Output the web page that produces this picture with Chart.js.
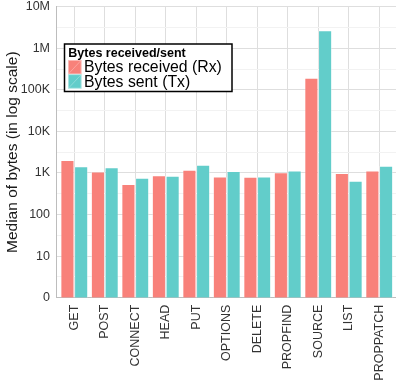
<!DOCTYPE html>
<html>
<head>
<meta charset="utf-8">
<script src="https://cdn.jsdelivr.net/npm/chart.js@4/dist/chart.umd.min.js"></script>
<style>
  html, body { margin: 0; padding: 0; background: #ffffff; overflow: hidden; }
  #wrap { width: 396px; height: 388px; }
</style>
</head>
<body>
<div id="wrap"><canvas id="chart" width="396" height="388"></canvas></div>
<script>
// HTTP methods on the x axis
const methods = ['GET', 'POST', 'CONNECT', 'HEAD', 'PUT', 'OPTIONS', 'DELETE', 'PROPFIND', 'SOURCE', 'LIST', 'PROPPATCH'];

// Median bytes per method
const bytesReceived = [2040, 1070, 540, 875, 1190, 810, 800, 1030, 194000, 995, 1130];
const bytesSent     = [1440, 1360, 755, 845, 1550, 1110, 810, 1130, 2680000, 640, 1470];

// Log-scale decade ticks and their labels
const decadeTicks  = [1, 10, 100, 1000, 10000, 100000, 1000000, 10000000];
const decadeLabels = ['0', '10', '100', '1K', '10K', '100K', '1M', '10M'];

const seriesNames = ['Bytes received (Rx)', 'Bytes sent (Tx)'];
const legendTitle = 'Bytes received/sent';
const yTitle = 'Median of bytes (in log scale)';

const rxColor = '#F8817A';
const txColor = '#62CDCA';

const toPoints = vals => vals.map((v, i) => ({ x: i + 1, y: v }));

// minor gridlines halfway between decades (in log space)
const minorTicks = decadeTicks.slice(0, -1).map(v => v * Math.sqrt(10));

const whiteBg = {
  id: 'whiteBg',
  beforeDraw(chart) {
    const c = chart.ctx;
    c.save();
    c.fillStyle = '#ffffff';
    c.fillRect(0, 0, chart.width, chart.height);
    c.restore();
  }
};

// Boxed legend inside the plotting panel
const panelLegend = {
  id: 'panelLegend',
  afterDraw(chart) {
    const c = chart.ctx;
    const area = chart.chartArea;
    const x0 = area.left + 8.5, y0 = 44;
    const w = 167.5, h = 47.5;
    c.save();
    c.fillStyle = '#ffffff';
    c.fillRect(x0, y0, w, h);
    c.strokeStyle = '#000000';
    c.lineWidth = 1.5;
    c.strokeRect(x0, y0, w, h);

    c.fillStyle = '#000000';
    c.font = 'bold 12.5px "Liberation Sans", Arial, sans-serif';
    c.textBaseline = 'alphabetic';
    c.fillText(legendTitle, x0 + 3.8, y0 + 13.3);

    const keyX = x0 + 3.5, keyW = 13.5, keyH = 14.3;
    chart.data.datasets.forEach((ds, i) => {
      const ky = y0 + 16 + i * keyH;
      c.fillStyle = ds.backgroundColor;
      c.fillRect(keyX, ky, keyW, keyH);
      c.strokeStyle = 'rgba(255,255,255,0.55)';
      c.lineWidth = 0.8;
      c.strokeRect(keyX + 0.4, ky + 0.4, keyW - 0.8, keyH - 0.8);
      c.beginPath();
      c.moveTo(keyX + 1, ky + keyH - 1);
      c.lineTo(keyX + keyW - 1, ky + 1);
      c.strokeStyle = 'rgba(255,255,255,0.35)';
      c.stroke();
      c.fillStyle = '#000000';
      c.font = '15.8px "Liberation Sans", Arial, sans-serif';
      c.fillText(ds.label, x0 + 19.5, ky + 12.3);
    });
    c.restore();
  }
};

new Chart(document.getElementById('chart'), {
  type: 'bar',
  data: {
    datasets: [
      {
        label: seriesNames[0],
        data: toPoints(bytesReceived),
        backgroundColor: rxColor,
        borderColor: 'rgba(255,255,255,0.45)',
        borderWidth: 0.8
      },
      {
        label: seriesNames[1],
        data: toPoints(bytesSent),
        backgroundColor: txColor,
        borderColor: 'rgba(255,255,255,0.45)',
        borderWidth: 0.8
      }
    ]
  },
  options: {
    responsive: false,
    animation: false,
    devicePixelRatio: 1,
    layout: { padding: { left: 0, right: 0, top: 6.7, bottom: 0 } },
    datasets: { bar: { categoryPercentage: 0.9, barPercentage: 1.0 } },
    plugins: {
      legend: { display: false },
      tooltip: { enabled: false }
    },
    scales: {
      x: {
        type: 'linear',
        offset: false,
        min: 0.4,
        max: 11.55,
        afterBuildTicks(scale) {
          scale.ticks = methods.map((m, i) => ({ value: i + 1 }));
        },
        afterFit(scale) {
          scale.height = 90.3;
          scale.paddingLeft = 0;
          scale.paddingRight = 0;
        },
        ticks: {
          autoSkip: false,
          minRotation: 90,
          maxRotation: 90,
          padding: 7,
          color: '#333333',
          font: { family: '"Liberation Sans", Arial, sans-serif', size: 12.5 },
          callback(v) {
            const idx = Math.round(v) - 1;
            return methods[idx] !== undefined ? methods[idx] : '';
          }
        },
        grid: { offset: false, color: '#dedede', lineWidth: 1, drawTicks: false },
        border: { display: true, color: '#bdbdbd', width: 1 }
      },
      y: {
        type: 'logarithmic',
        min: 1,
        max: 10000000,
        afterBuildTicks(scale) {
          const all = decadeTicks.concat(minorTicks).sort((a, b) => a - b);
          scale.ticks = all.map(v => ({ value: v }));
        },
        afterFit(scale) {
          scale.width = 56;
          scale.paddingTop = 0;
          scale.paddingBottom = 0;
        },
        ticks: {
          autoSkip: false,
          padding: 6,
          color: '#333333',
          font: { family: '"Liberation Sans", Arial, sans-serif', size: 12.5, lineHeight: 1 },
          callback(v) {
            const idx = decadeTicks.findIndex(d => Math.abs(d - v) / d < 1e-6);
            return idx >= 0 ? decadeLabels[idx] : '';
          }
        },
        grid: {
          drawTicks: false,
          lineWidth: 1,
          color(ctx) {
            if (!ctx.tick) return '#dedede';
            const v = ctx.tick.value;
            const major = decadeTicks.some(d => Math.abs(d - v) / d < 1e-6);
            return major ? '#dedede' : '#f2f2f2';
          }
        },
        border: { display: true, color: '#bdbdbd', width: 1 },
        title: {
          display: true,
          text: yTitle,
          color: '#1a1a1a',
          padding: { top: 3, bottom: 0 },
          font: { family: '"Liberation Sans", Arial, sans-serif', size: 15.5 }
        }
      }
    }
  },
  plugins: [whiteBg, panelLegend]
});
</script>
</body>
</html>
